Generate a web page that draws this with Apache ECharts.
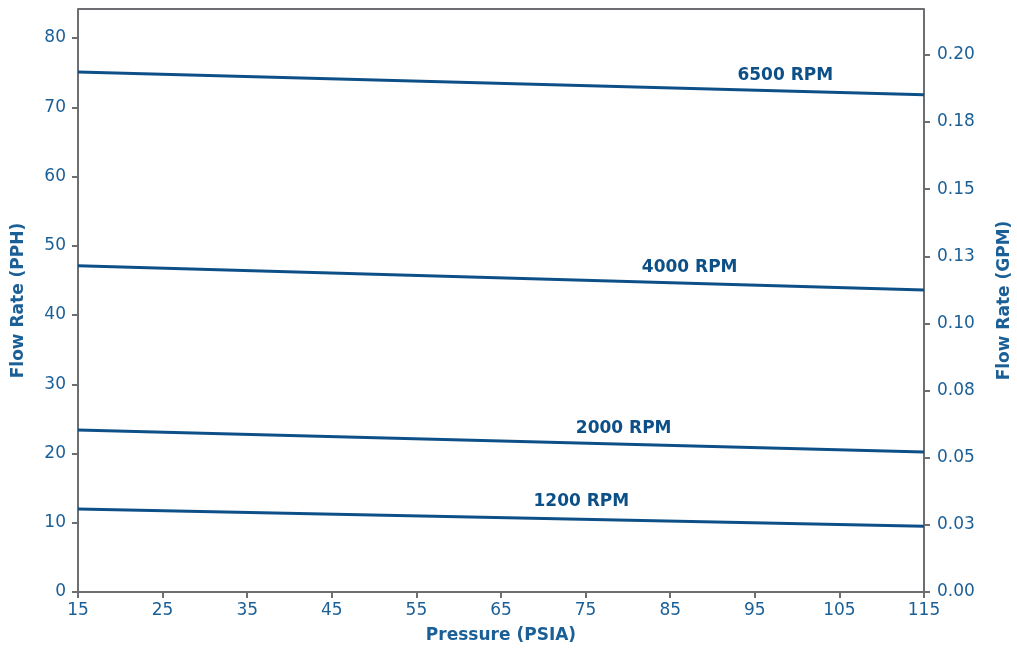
<!DOCTYPE html>
<html>
<head>
<meta charset="utf-8">
<script src="https://cdn.jsdelivr.net/npm/echarts@6/dist/echarts.min.js"></script>
<style>
  html, body { margin: 0; padding: 0; background: #fff; }
  #chart { width: 1017px; height: 649px; }
</style>
</head>
<body>
<div id="chart"></div>
<script>
// pressure endpoints (PSIA)
var pressure = [15, 115];
// flow rate (PPH) at each pressure
var rpm6500 = [75.1, 71.8];
var rpm4000 = [47.1, 43.6];
var rpm2000 = [23.4, 20.2];
var rpm1200 = [12.0, 9.5];
var seriesNames = ["6500 RPM", "4000 RPM", "2000 RPM", "1200 RPM"];
// where each curve name sits [pressure, flow]
var nameSpots = [[98.6, 74.6], [87.3, 46.8], [79.5, 23.6], [74.5, 13.0]];
var rightTickLabels = ["0.00", "0.03", "0.05", "0.08", "0.10", "0.13", "0.15", "0.18", "0.20"];

var blue = "#0d5088";
var textBlue = "#1b5f97";
var axisGrey = "#6d6e71";
var font = "DejaVu Sans, sans-serif";

var chart = echarts.init(document.getElementById("chart"));

var allValues = [rpm6500, rpm4000, rpm2000, rpm1200];
var series = allValues.map(function (vals, i) {
  return {
    name: seriesNames[i],
    type: "line",
    data: pressure.map(function (p, j) { return [p, vals[j]]; }),
    symbol: "none",
    lineStyle: { color: blue, width: 3 },
    markPoint: {
      symbol: "circle",
      symbolSize: 0,
      data: [{ coord: nameSpots[i] }],
      label: {
        show: true,
        formatter: seriesNames[i],
        color: blue,
        fontWeight: "bold",
        fontSize: 17,
        fontFamily: font
      }
    }
  };
});

var option = {
  animation: false,
  grid: { left: 78, right: 93, top: 9, bottom: 57, containLabel: false, outerBoundsMode: "none" },
  xAxis: {
    type: "value",
    min: 15,
    max: 115,
    interval: 10,
    name: "Pressure (PSIA)",
    nameLocation: "middle",
    nameGap: 35,
    nameTextStyle: { color: textBlue, fontWeight: "bold", fontSize: 17, fontFamily: font },
    axisLine: { lineStyle: { color: axisGrey, width: 2 } },
    axisTick: { show: true, length: 6, lineStyle: { color: axisGrey, width: 2 } },
    axisLabel: { color: textBlue, fontSize: 17, margin: 10, fontFamily: font },
    splitLine: { show: false }
  },
  yAxis: [
    {
      type: "value",
      min: 0,
      max: 84.19,
      interval: 10,
      name: "Flow Rate (PPH)",
      nameLocation: "middle",
      nameGap: 51,
      nameTextStyle: { color: textBlue, fontWeight: "bold", fontSize: 17, fontFamily: font },
      axisLine: { show: true, lineStyle: { color: axisGrey, width: 2 } },
      axisTick: { show: true, length: 6, lineStyle: { color: axisGrey, width: 2 } },
      axisLabel: {
        color: textBlue, fontSize: 17, margin: 12, fontFamily: font,
        showMaxLabel: false,
        formatter: function (v) { return v % 10 === 0 ? String(v) : ""; }
      },
      splitLine: { show: false }
    },
    {
      type: "value",
      position: "right",
      min: 0,
      max: 0.2171,
      interval: 0.025,
      name: "Flow Rate (GPM)",
      nameLocation: "middle",
      nameGap: 72,
      nameRotate: 90,
      nameTextStyle: { color: textBlue, fontWeight: "bold", fontSize: 17, fontFamily: font },
      axisLine: { show: true, lineStyle: { color: axisGrey, width: 2 } },
      axisTick: { show: true, length: 6, lineStyle: { color: axisGrey, width: 2 } },
      axisLabel: {
        color: textBlue, fontSize: 17, margin: 13, fontFamily: font,
        showMaxLabel: false,
        formatter: function (v) {
          var k = v / 0.025;
          var r = Math.round(k);
          if (Math.abs(k - r) > 1e-6) return "";
          return rightTickLabels[r] || "";
        }
      },
      splitLine: { show: false }
    }
  ],
  series: series,
  graphic: [
    {
      // top border of the plot box
      type: "line",
      shape: { x1: 78, y1: 9, x2: 924, y2: 9 },
      style: { stroke: axisGrey, lineWidth: 2 }
    }
  ]
};

option && chart.setOption(option);
</script>
</body>
</html>
